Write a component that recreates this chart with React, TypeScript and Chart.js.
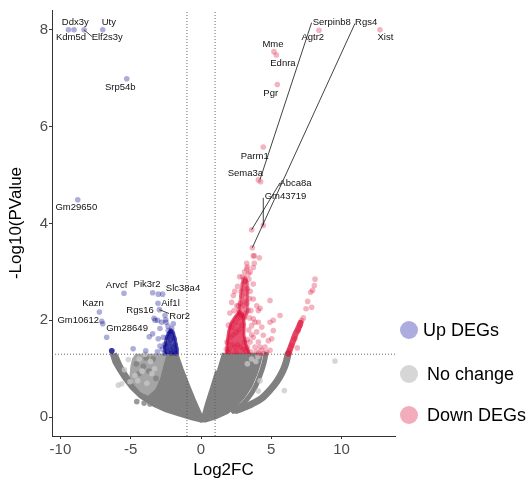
import React, { useEffect, useRef } from "react";
import { Chart, registerables } from "chart.js";

Chart.register(...registerables);

type P = [number, number];

// ---------- axes ----------
const xTicks = [-10, -5, 0, 5, 10];
const yTicks = [0, 2, 4, 6, 8];
const xRange: P = [-10.6, 13.8];
const yRange: P = [-0.39, 8.41];
const pThreshold = 1.3;
const fcThresholds = [-1, 1];

// ---------- Up DEGs (individual points) ----------
const upPoints: P[] = [
  [-9.43, 8.0], [-9.03, 8.0], [-8.32, 8.0], [-6.99, 8.0], [-5.28, 6.99], [-8.77, 4.49],
  [-5.48, 2.56], [-3.44, 2.57], [-3.04, 2.54], [-2.73, 2.54], [-3.06, 2.35], [-2.96, 2.22],
  [-3.34, 2.04], [-3.08, 2.0], [-2.51, 2.01], [-2.8, 1.96], [-7.23, 2.17], [-7.06, 1.98],
  [-6.99, 1.93], [-6.71, 1.65], [-3.44, 1.72], [-3.68, 1.66], [-4.83, 1.41], [-3.93, 1.37],
  [-2.92, 1.47], [-3.04, 1.62], [-6.35, 1.37], [-6.35, 1.37], [-6.35, 1.37], [-6.35, 1.37],
  [-2.56, 2.1], [-2.49, 1.96], [-2.92, 1.83], [-2.33, 1.79], [-2.68, 1.65], [-3.27, 2.0],
  [-2.08, 1.83], [-1.97, 1.93], [-2.6, 1.5], [-2.75, 1.4], [-3.1, 1.35], [-2.4, 1.65],
  [-2.25, 1.72], [-2.15, 1.6], [-2.05, 1.7], [-1.9, 1.62], [-1.85, 1.5], [-1.75, 1.4],
  [-2.0, 1.45], [-2.2, 1.4], [-2.4, 1.35], [-2.5, 1.45], [-2.3, 1.52], [-1.95, 1.35],
  [-1.8, 1.32], [-2.1, 1.32], [-2.6, 1.32], [-2.15, 1.78], [-2.35, 1.88],
];
// dense core of Up DEGs
const upDenseArea: P[] = [
  [-2.55, 1.31], [-2.6, 1.45], [-2.5, 1.6], [-2.35, 1.72], [-2.15, 1.8], [-1.97, 1.76],
  [-1.83, 1.6], [-1.72, 1.45], [-1.67, 1.31],
];

// ---------- Down DEGs ----------
const downPoints: P[] = [
  [12.73, 8.0], [8.39, 7.99], [5.19, 7.55], [5.36, 7.48], [5.43, 6.87], [4.43, 5.58],
  [4.08, 4.9], [4.24, 4.86], [3.6, 3.87], [4.43, 3.96], [3.65, 3.5], [3.72, 3.33],
  [3.79, 3.33], [4.15, 3.29], [3.25, 3.18], [3.79, 3.18], [3.72, 3.09], [3.25, 3.06],
  [3.37, 2.96], [3.13, 2.82], [3.01, 2.75], [3.72, 2.75], [3.72, 2.44], [4.91, 2.41],
  [4.08, 2.2], [4.2, 2.25], [3.72, 2.03], [4.08, 1.96], [3.6, 1.89], [4.91, 1.96],
  [5.14, 2.0], [4.32, 1.86], [3.96, 1.76], [4.43, 1.69], [5.14, 1.79], [5.03, 1.62],
  [3.72, 1.65], [4.08, 1.55], [3.49, 1.55], [4.55, 1.45], [4.91, 1.38], [3.84, 1.45],
  [4.32, 1.38], [5.62, 2.1], [4.79, 1.58], [4.67, 1.34], [3.96, 2.3], [3.84, 1.96],
  [2.3, 2.51], [2.18, 2.37], [2.65, 2.3],
  [8.11, 2.85], [8.06, 2.72], [7.8, 2.58], [7.94, 2.62], [7.59, 2.39], [7.87, 2.27],
  [7.47, 2.24], [7.28, 2.05], [7.04, 1.9], [7.16, 2.0], [6.92, 1.79], [6.69, 1.62],
  [6.45, 1.48], [6.85, 1.43], [6.28, 1.38],
  // column
  [3.0, 2.3], [3.1, 2.4], [3.2, 2.55], [2.9, 2.5], [3.05, 2.65], [3.3, 2.65], [3.15, 2.8],
  [2.95, 2.9], [3.25, 2.35], [2.8, 2.35], [2.7, 2.2], [3.35, 2.2], [3.45, 2.45], [3.5, 2.6],
  [3.4, 2.85], [3.5, 3.0], [3.1, 3.0], [3.3, 3.1], [2.85, 2.6], [3.2, 2.15], [3.05, 2.05],
  // base
  [1.8, 1.4], [1.85, 1.55], [1.95, 1.9], [2.05, 2.15], [2.0, 1.4], [2.2, 1.5], [2.4, 1.45],
  [2.6, 1.5], [2.8, 1.45], [3.0, 1.4], [3.2, 1.38], [2.1, 1.65], [2.3, 1.7], [2.5, 1.75],
  [2.7, 1.8], [2.9, 1.9], [2.2, 1.85], [2.45, 1.95], [2.65, 2.05], [2.85, 2.1], [1.9, 1.35],
  [2.5, 1.35], [3.1, 1.55], [3.3, 1.6], [2.35, 2.2], [2.55, 2.3], [3.3, 1.45], [3.55, 1.35],
  [3.95, 1.35], [3.6, 1.7], [3.4, 1.8], [3.45, 2.05], [3.55, 2.2], [2.4, 2.6], [2.6, 2.7],
  [2.75, 2.9], [4.2, 1.45], [4.1, 1.32], [4.45, 1.32],
];
const downDenseArea: P[] = [
  [1.83, 1.31], [1.86, 1.55], [1.97, 1.78], [2.15, 1.95], [2.45, 2.08], [2.72, 2.18],
  [2.98, 2.12], [3.08, 1.92], [3.05, 1.7], [3.2, 1.5], [3.45, 1.31],
];
const downColumnArea: P[] = [
  [2.65, 2.1], [2.78, 2.4], [2.88, 2.68], [2.98, 2.86], [3.15, 2.9], [3.32, 2.76],
  [3.34, 2.5], [3.3, 2.2], [3.12, 2.02],
];
const downDenseBand: P[] = [
  [6.22, 1.31], [6.45, 1.5], [6.7, 1.7], [6.95, 1.85], [7.08, 1.95],
];

// ---------- No change ----------
const noChangePoints: P[] = [
  [-5.17, 1.19], [-5.64, 0.69], [-5.05, 0.73], [-4.7, 0.86], [-5.88, 0.66], [-5.45, 0.98],
  [9.53, 1.16], [5.93, 0.55], [4.08, 0.54], [4.2, 0.75], [-3.98, 1.3], [-4.4, 1.2],
  [-3.6, 1.15], [-4.2, 0.95], [-3.5, 0.9], [-3.85, 0.7], [-4.5, 0.75], [-3.3, 1.0],
  [3.6, 1.2], [3.9, 1.15], [3.3, 1.1], [4.05, 1.25],
];
const noChangeDarkPoints: P[] = [
  [-4.57, 0.32], [-4.05, 0.29], [-3.63, 0.27], [-4.1, 1.05], [-3.7, 0.95], [-4.4, 0.9],
  [-3.4, 1.2], [-3.9, 1.22], [-3.2, 0.8], [-4.6, 1.1],
];
const noChangeLeftArea: P[] = [
  [-6.4, 1.32], [-6.19, 1.13], [-5.83, 0.95], [-5.45, 0.78], [-4.91, 0.58], [-4.34, 0.42],
  [-3.4, 0.25], [-2.5, 0.13], [-1.6, 0.05], [-0.6, -0.04], [0.0, -0.08], [0.1, -0.02],
  [-0.05, 0.08], [-0.5, 0.38], [-0.92, 0.68], [-1.35, 1.0], [-1.71, 1.3], [-2.49, 1.3],
  [-2.7, 1.07], [-2.92, 0.82], [-3.27, 0.58], [-3.77, 0.45], [-4.27, 0.52], [-4.77, 0.68],
  [-5.26, 0.86], [-5.69, 1.07], [-5.97, 1.26], [-6.12, 1.32],
];
const noChangeLeftSpeckle: P[] = [
  [-4.69, 1.3], [-2.49, 1.3], [-2.7, 1.07], [-2.92, 0.82], [-3.27, 0.58], [-3.77, 0.45],
  [-4.27, 0.52], [-4.77, 0.68], [-5.05, 0.86], [-4.98, 1.07], [-4.84, 1.23],
];
const noChangeRightArea: P[] = [
  [1.47, 1.3], [4.3, 1.3], [4.15, 1.1], [3.9, 0.88], [3.55, 0.64], [3.05, 0.42],
  [2.5, 0.24], [1.9, 0.1], [1.0, -0.02], [0.3, -0.08], [0.0, -0.08], [0.1, -0.02],
  [0.41, 0.3], [0.76, 0.62], [1.12, 0.96],
];
const noChangeInnerBand: P[] = [
  [4.62, 1.3], [4.47, 1.1], [4.2, 0.86], [3.82, 0.6], [3.28, 0.37], [2.7, 0.19], [2.3, 0.12],
];
const noChangeOuterBand: P[] = [
  [6.2, 1.31], [6.02, 1.1], [5.78, 0.93], [5.38, 0.73], [4.91, 0.56], [4.32, 0.39],
  [3.6, 0.27], [2.89, 0.18], [2.54, 0.14],
];

// ---------- gene labels ----------
const geneNames = [
  "Ddx3y", "Kdm5d", "Elf2s3y", "Uty", "Srp54b", "Gm29650", "Arvcf", "Pik3r2", "Slc38a4",
  "Aif1l", "Ror2", "Rgs16", "Kazn", "Gm10612", "Gm28649", "Serpinb8", "Rgs4", "Agtr2",
  "Xist", "Mme", "Ednra", "Pgr", "Parm1", "Sema3a", "Abca8a", "Gm43719",
];
const labelPositions: P[] = [
  [-8.94, 8.15], [-9.25, 7.84], [-6.67, 7.84], [-6.56, 8.15], [-5.74, 6.81], [-8.87, 4.33],
  [-6.0, 2.72], [-3.84, 2.74], [-1.28, 2.66], [-2.17, 2.36], [-1.52, 2.08], [-4.34, 2.2],
  [-7.68, 2.34], [-8.73, 2.0], [-5.26, 1.84], [9.3, 8.15], [11.75, 8.15], [7.95, 7.84],
  [13.12, 7.84], [5.12, 7.69], [5.83, 7.31], [4.96, 6.69], [3.82, 5.39], [3.16, 5.03],
  [6.72, 4.82], [6.01, 4.57],
];
const connectorFrom: P[] = [
  [-8.32, 8.0], [-2.96, 2.22], [4.2, 4.91], [3.65, 3.5], [3.6, 3.87], [4.43, 3.96],
];
const connectorTo: P[] = [
  [-7.75, 7.86], [-2.28, 2.14], [7.87, 8.15], [10.95, 8.13], [5.62, 4.84], [4.43, 4.53],
];

const legendNames = ["Up DEGs", "No change", "Down DEGs"];
const legendColors = ["rgb(172,172,222)", "rgb(214,214,214)", "rgb(242,172,188)"];

const FONT = '"Liberation Sans", Arial, sans-serif';

const toXY = (arr: P[]) => arr.map(([x, y]) => ({ x, y }));

const labelPlugin = {
  id: "geneLabels",
  afterDatasetsDraw(chart: any) {
    const { ctx, scales } = chart;
    const sx = scales.x, sy = scales.y;
    ctx.save();
    ctx.strokeStyle = "#111";
    ctx.lineWidth = 0.8;
    connectorFrom.forEach((a, i) => {
      const b = connectorTo[i];
      ctx.beginPath();
      ctx.moveTo(sx.getPixelForValue(a[0]), sy.getPixelForValue(a[1]));
      ctx.lineTo(sx.getPixelForValue(b[0]), sy.getPixelForValue(b[1]));
      ctx.stroke();
    });
    ctx.font = `9.5px ${FONT}`;
    ctx.fillStyle = "#111";
    ctx.textAlign = "center";
    ctx.textBaseline = "middle";
    geneNames.forEach((n, i) => {
      const [x, y] = labelPositions[i];
      ctx.fillText(n, sx.getPixelForValue(x), sy.getPixelForValue(y));
    });
    ctx.restore();
  },
};

const legendPlugin = {
  id: "sideLegend",
  afterDraw(chart: any) {
    const { ctx } = chart;
    const ys = [330, 374, 415];
    ctx.save();
    legendNames.forEach((n, i) => {
      ctx.beginPath();
      ctx.arc(409, ys[i], 9, 0, Math.PI * 2);
      ctx.fillStyle = legendColors[i];
      ctx.fill();
      ctx.font = `18px ${FONT}`;
      ctx.fillStyle = "#000";
      ctx.textAlign = "left";
      ctx.textBaseline = "middle";
      ctx.fillText(n, i === 0 ? 423 : 427, ys[i] + 1);
    });
    ctx.restore();
  },
};

export default function App() {
  const ref = useRef<HTMLCanvasElement | null>(null);
  useEffect(() => {
    document.body.style.margin = "0";
    if (!ref.current) return;
    const area = (data: P[], color: string, order: number, bw = 3) => ({
      type: "line" as const,
      data: toXY(data),
      showLine: true,
      fill: "shape" as any,
      backgroundColor: color,
      borderColor: color,
      borderWidth: bw,
      borderJoinStyle: "round" as const,
      pointRadius: 0,
      tension: 0,
      order,
    });
    const band = (data: P[], color: string, width: number, order: number) => ({
      type: "line" as const,
      data: toXY(data),
      showLine: true,
      fill: false,
      borderColor: color,
      borderWidth: width,
      borderCapStyle: "round" as const,
      borderJoinStyle: "round" as const,
      pointRadius: 0,
      tension: 0.3,
      order,
    });
    const pts = (data: P[], color: string, order: number) => ({
      type: "scatter" as const,
      data: toXY(data),
      backgroundColor: color,
      borderWidth: 0,
      pointRadius: 2.8,
      order,
    });
    const refLine = (data: P[], order: number) => ({
      type: "line" as const,
      data: toXY(data),
      showLine: true,
      fill: false,
      borderColor: "rgba(90,90,90,0.9)",
      borderWidth: 1,
      borderDash: [1, 2],
      pointRadius: 0,
      order,
    });
    const grey = "rgb(128,128,128)";
    const chart = new Chart(ref.current, {
      type: "scatter",
      data: {
        datasets: [
          area(noChangeLeftArea, grey, 90),
          area(noChangeLeftSpeckle, "rgb(165,165,165)", 89, 1),
          area(noChangeRightArea, grey, 88),
          band(noChangeInnerBand, grey, 5, 87),
          band(noChangeOuterBand, grey, 7, 86),
          pts(noChangeDarkPoints, "rgba(128,128,128,0.8)", 85),
          pts(noChangePoints, "rgba(200,200,200,0.75)", 84),
          refLine([[fcThresholds[0], yRange[0]], [fcThresholds[0], yRange[1]]], 60),
          refLine([[fcThresholds[1], yRange[0]], [fcThresholds[1], yRange[1]]], 60),
          refLine([[xRange[0], pThreshold], [xRange[1], pThreshold]], 60),
          area(downDenseArea, "rgba(222,22,62,0.75)", 50, 3),
          area(downColumnArea, "rgba(222,22,62,0.5)", 51, 3),
          band(downDenseBand, "rgba(222,22,62,0.8)", 6, 49),
          pts(downPoints, "rgba(220,20,60,0.32)", 40),
          area(upDenseArea, "rgba(20,20,145,0.7)", 30, 3),
          pts(upPoints, "rgba(0,0,139,0.32)", 20),
        ] as any,
      },
      options: {
        responsive: false,
        animation: false,
        events: [],
        layout: { padding: { top: 8, right: 135, left: 0, bottom: 0 } },
        plugins: { legend: { display: false }, tooltip: { enabled: false } },
        scales: {
          x: {
            type: "linear",
            min: xRange[0],
            max: xRange[1],
            afterBuildTicks: (s: any) => { s.ticks = xTicks.map((v) => ({ value: v })); },
            afterFit: (s: any) => { s.height = 53; },
            grid: { drawOnChartArea: false, drawTicks: true, tickLength: 3, color: "#333", lineWidth: 1 },
            border: { display: true, color: "#333", width: 1 },
            ticks: { color: "#4d4d4d", font: { size: 15, family: FONT }, padding: 2, maxRotation: 0 },
            title: { display: true, text: "Log2FC", color: "#000", font: { size: 17, family: FONT }, padding: { bottom: 8, top: 0 } },
          },
          y: {
            type: "linear",
            min: yRange[0],
            max: yRange[1],
            afterBuildTicks: (s: any) => { s.ticks = yTicks.map((v) => ({ value: v })); },
            afterFit: (s: any) => { s.width = 52; },
            grid: { drawOnChartArea: false, drawTicks: true, tickLength: 3, color: "#333", lineWidth: 1 },
            border: { display: true, color: "#333", width: 1 },
            ticks: { color: "#4d4d4d", font: { size: 15, family: FONT }, padding: 1 },
            title: { display: true, text: "-Log10(PValue", color: "#000", font: { size: 17, family: FONT }, padding: { top: 6, bottom: 0 } },
          },
        },
      },
      plugins: [labelPlugin, legendPlugin],
    });
    return () => chart.destroy();
  }, []);
  return <canvas ref={ref} width={530} height={489} style={{ display: "block" }} />;
}
